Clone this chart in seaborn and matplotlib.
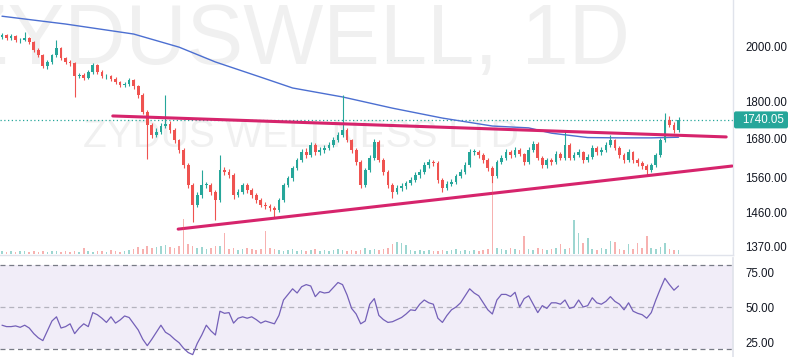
import numpy as np
import pandas as pd
import seaborn as sns
import matplotlib.pyplot as plt
from matplotlib.patches import FancyBboxPatch
from matplotlib.transforms import IdentityTransform
from matplotlib.ticker import NullLocator

sns.set_theme(style="white")
plt.rcParams["font.family"] = ["Liberation Sans", "DejaVu Sans"]

# daily candles, ZYDUSWELL
first_open = 2035
closes = [2042, 2030, 2038, 2023, 2023, 2030, 2015, 1985, 1966, 1926,
          1941, 1966, 1992, 1955, 1941, 1937, 1890, 1894, 1883, 1904,
          1930, 1904, 1890, 1890, 1880, 1869, 1858, 1862, 1876, 1855,
          1824, 1766, 1724, 1691, 1701, 1721, 1727, 1707, 1675, 1644,
          1598, 1539, 1482, 1510, 1539, 1539, 1519, 1496, 1583, 1577,
          1568, 1510, 1519, 1539, 1524, 1510, 1496, 1482, 1479, 1474,
          1468, 1496, 1539, 1559, 1589, 1613, 1638, 1629, 1660, 1638,
          1644, 1651, 1660, 1675, 1691, 1707, 1675, 1644, 1607, 1539,
          1583, 1620, 1669, 1613, 1577, 1539, 1519, 1530, 1536, 1545,
          1554, 1568, 1577, 1598, 1607, 1604, 1554, 1530, 1542, 1548,
          1565, 1577, 1598, 1638, 1638, 1629, 1613, 1589, 1565, 1607,
          1620, 1638, 1629, 1644, 1632, 1607, 1644, 1663, 1620, 1598,
          1613, 1607, 1632, 1620, 1660, 1620, 1629, 1638, 1613, 1623,
          1651, 1638, 1644, 1660, 1675, 1651, 1629, 1613, 1638, 1613,
          1604, 1595, 1583, 1598, 1629, 1675, 1740, 1724, 1707, 1740.05]
highs = [2050, 2048, 2045, 2044, 2030, 2052, 2036, 2020, 1992, 1970,
         1948, 1972, 2023, 1998, 1960, 1950, 1942, 1902, 1900, 1910,
         1938, 1935, 1910, 1898, 1895, 1886, 1874, 1870, 1884, 1880,
         1860, 1830, 1772, 1730, 1712, 1730, 1824, 1735, 1712, 1680,
         1650, 1604, 1545, 1518, 1583, 1548, 1546, 1525, 1629, 1592,
         1585, 1574, 1528, 1546, 1545, 1530, 1515, 1502, 1490, 1486,
         1480, 1502, 1545, 1566, 1596, 1620, 1646, 1650, 1668, 1666,
         1652, 1660, 1668, 1684, 1700, 1824, 1712, 1680, 1650, 1612,
         1590, 1628, 1678, 1674, 1618, 1582, 1544, 1538, 1544, 1552,
         1562, 1576, 1586, 1606, 1616, 1614, 1610, 1558, 1550, 1556,
         1572, 1585, 1606, 1646, 1648, 1645, 1634, 1618, 1594, 1614,
         1628, 1646, 1645, 1652, 1650, 1636, 1652, 1672, 1668, 1625,
         1620, 1620, 1640, 1638, 1704, 1666, 1638, 1646, 1642, 1632,
         1658, 1656, 1652, 1668, 1691, 1680, 1656, 1634, 1646, 1642,
         1618, 1610, 1600, 1605, 1636, 1682, 1763, 1752, 1732, 1748]
lows = [2028, 2022, 2025, 2016, 2012, 2018, 2008, 1978, 1958, 1918,
        1915, 1935, 1960, 1948, 1934, 1928, 1816, 1882, 1875, 1878,
        1898, 1896, 1882, 1880, 1872, 1862, 1850, 1850, 1855, 1846,
        1815, 1758, 1616, 1682, 1684, 1695, 1712, 1698, 1666, 1636,
        1590, 1530, 1435, 1476, 1502, 1530, 1510, 1441, 1490, 1568,
        1560, 1500, 1504, 1512, 1516, 1502, 1488, 1475, 1470, 1466,
        1446, 1462, 1490, 1532, 1552, 1582, 1606, 1620, 1622, 1630,
        1630, 1636, 1645, 1654, 1668, 1685, 1668, 1636, 1598, 1530,
        1532, 1576, 1614, 1606, 1568, 1530, 1502, 1512, 1522, 1528,
        1538, 1548, 1560, 1570, 1590, 1596, 1545, 1519, 1524, 1535,
        1542, 1558, 1570, 1592, 1628, 1620, 1605, 1580, 1545, 1558,
        1600, 1612, 1620, 1622, 1625, 1598, 1600, 1638, 1612, 1588,
        1590, 1598, 1600, 1612, 1614, 1612, 1614, 1622, 1605, 1606,
        1616, 1630, 1630, 1638, 1654, 1644, 1620, 1605, 1606, 1604,
        1596, 1586, 1568, 1576, 1592, 1622, 1668, 1716, 1698, 1700]
volume = [3, 2, 3, 2, 3, 3, 2, 3, 2, 3, 2, 3, 3, 2, 3, 2, 3, 2, 6, 3,
          2, 3, 3, 2, 4, 3, 2, 3,
          4, 5, 7, 5, 8, 6, 7, 8, 9, 7, 6, 8,
          35, 10, 8, 6, 7, 5, 6, 8, 8, 21,
          5, 6, 4, 5, 6, 5, 4, 5, 23,
          6, 5, 4, 3, 4, 5, 3, 4, 3, 4, 5, 3, 4, 3, 4, 5, 4, 3, 4, 3,
          4, 6, 4, 5, 4, 5, 6,
          10, 12, 11, 9,
          4, 3, 4, 3, 4, 3, 3, 4, 3, 4, 5, 3, 4, 3, 4, 3, 4, 5,
          70, 6, 5, 4, 6, 5, 4, 18,
          5, 4, 6, 5, 4, 5, 6,
          10, 5, 6, 34, 21, 11, 16,
          5, 4, 6, 5, 13, 12, 5, 4, 10, 5, 11, 6, 18, 6, 5, 7, 11, 5, 4, 4]
rsi = [37, 36, 36, 36.5, 35.5, 37, 35, 31, 28, 26,
       33, 40, 43, 35, 36, 38, 31, 35, 38, 36,
       46, 44.5, 42, 39, 43, 38.5, 40.7, 43.6, 42.5, 38,
       33.6, 27, 22.4, 27, 32, 37, 32, 30, 27, 24.5,
       20.5, 17.5, 16, 24, 30, 37, 33, 30, 47, 45.5,
       46, 38.5, 42, 43, 42, 43, 41, 38.5, 40, 39,
       38, 44, 55, 59, 63, 60, 64.5, 66, 65, 57.4,
       61, 60, 60.5, 64, 67.5, 66, 58.6, 49, 45, 38,
       40, 52, 56, 44, 41, 39, 39.5, 41, 42.5, 45,
       48, 47.5, 52, 55, 53, 52, 42, 39, 44, 48,
       50, 53, 58, 63, 60, 58, 53, 48, 45, 55,
       59, 59, 57.5, 60.5, 50, 56, 58, 52, 46, 51,
       49, 53, 53, 52, 55, 49, 50, 55, 50, 51,
       56.6, 53, 52, 54, 57.4, 54, 52, 48, 53, 47,
       45.5, 44.5, 42, 46, 55, 63, 70.5, 66, 62, 65]

# moving average (read at a few bars)
ma_idx = [0, 14, 29, 39, 47, 57, 64, 75, 86, 97, 108, 116, 121, 129, 136, 143, 149]
ma_val = [2116, 2085, 2046, 1996, 1941, 1886, 1848, 1817, 1779, 1746, 1720, 1714,
          1697, 1683, 1682, 1682, 1684]

# drawn trendlines (bar index, price)
upper_x, upper_y = [24.4, 159.5], [1753, 1685]
lower_x, lower_y = [38.8, 160.8], [1416, 1595]

price_ticks = [2000, 1800, 1680, 1560, 1460, 1370]
rsi_ticks = [75, 50, 25]
rsi_bands = [80, 50, 20]
last_price = 1740.05

GREEN, RED = "#26a69a", "#ef5350"
W, H = 790, 357

df = pd.DataFrame({"close": closes, "high": highs, "low": lows, "vol": volume, "rsi": rsi})
df["open"] = [first_open] + closes[:-1]
df["i"] = np.arange(len(df))
df["up"] = df["close"] >= df["open"]
df["col"] = np.where(df["up"], GREEN, RED)

fig = plt.figure(figsize=(W / 100, H / 100), dpi=100)
fig.patch.set_facecolor("white")


def px_axes(x0, y0, x1, y1):
    return fig.add_axes([x0 / W, 1 - y1 / H, (x1 - x0) / W, (y1 - y0) / H])


ax = px_axes(0, 0, 733, 255)
axv = px_axes(0, 150, 733, 254)
axr = px_axes(0, 258, 733, 357)
xlim = (-0.44, 161.0)

# watermark
ax.text(-44 / 733, 1 - 64 / 255, "ZYDUSWELL, 1D", transform=ax.transAxes,
        fontsize=61, color="#f0f0f0", ha="left", va="baseline", zorder=0)
ax.text(301 / 733, 1 - 147 / 255, "ZYDUS WELLNESS LTD", transform=ax.transAxes,
        fontsize=28, color="#f0f0f0", ha="center", va="baseline", zorder=0)

# candles
ax.vlines(df["i"], df["low"], df["high"], colors=df["col"], lw=0.8, zorder=3)
body_lo = df[["open", "close"]].min(axis=1)
body_h = (df["close"] - df["open"]).abs().clip(lower=1.5)
ax.bar(df["i"], body_h, bottom=body_lo, width=0.6, color=df["col"], lw=0, zorder=3)

sns.lineplot(x=ma_idx, y=ma_val, ax=ax, color="#4c6fd1", lw=1, zorder=2)
ax.plot(upper_x, upper_y, color="#d6246c", lw=2.2, solid_capstyle="round", zorder=4)
ax.plot(lower_x, lower_y, color="#d6246c", lw=2.2, solid_capstyle="round", zorder=4)
ax.axhline(last_price, color=GREEN, ls=(0, (1, 2)), lw=0.9, zorder=1)

ax.set_yscale("log")
ax.set_ylim(1348.5, 2181.7)
ax.set_xlim(*xlim)
ax.set_yticks(price_ticks)
ax.set_yticklabels([f"{t:.2f}" for t in price_ticks])
ax.yaxis.set_minor_locator(NullLocator())
ax.yaxis.tick_right()
ax.tick_params(axis="y", length=0, pad=9, labelsize=8.3, labelcolor="#131722")
ax.set_xticks([])
for s in ["top", "left"]:
    ax.spines[s].set_visible(False)
for s in ["right", "bottom"]:
    ax.spines[s].set_color("#e0e3eb")
    ax.spines[s].set_linewidth(1)
ax.set_facecolor("white")

# volume
axv.bar(df["i"], df["vol"], width=0.35, color=df["col"], alpha=0.45, lw=0)
axv.set_xlim(*xlim)
axv.set_ylim(0, 104)
axv.axis("off")
axv.set_facecolor("none")

# last price tag
_, ypix = ax.transData.transform((0, last_price))
fig.patches.append(FancyBboxPatch((734, ypix - 8.5), 54, 17,
                                  boxstyle="round,pad=0,rounding_size=2",
                                  fc=GREEN, ec="none", transform=IdentityTransform(),
                                  figure=fig))
fig.text(742 / W, ypix / H, f"{last_price:.2f}", color="white", fontsize=8.3,
         ha="left", va="center")

# RSI pane
axr.axhspan(rsi_bands[2], rsi_bands[0], color="#7e57c2", alpha=0.1, lw=0)
for b in rsi_bands:
    axr.axhline(b, color="#787b86", ls=(0, (4, 3)), lw=0.9,
                alpha=0.5 if b == 50 else 1.0)
sns.lineplot(data=df, x="i", y="rsi", ax=axr, color="#7460b8", lw=0.9)
axr.set_xlim(*xlim)
axr.set_ylim(14.3, 85)
axr.set_yticks(rsi_ticks)
axr.set_yticklabels([f"{t:.2f}" for t in rsi_ticks])
axr.yaxis.tick_right()
axr.tick_params(axis="y", length=0, pad=9, labelsize=8.3, labelcolor="#131722")
axr.set_xticks([])
axr.set_xlabel("")
axr.set_ylabel("")
for s in ["top", "left", "bottom"]:
    axr.spines[s].set_visible(False)
axr.spines["right"].set_color("#e0e3eb")
axr.set_facecolor("white")
ax.set_xlabel("")
ax.set_ylabel("")

fig.savefig("out.png", dpi=100)
